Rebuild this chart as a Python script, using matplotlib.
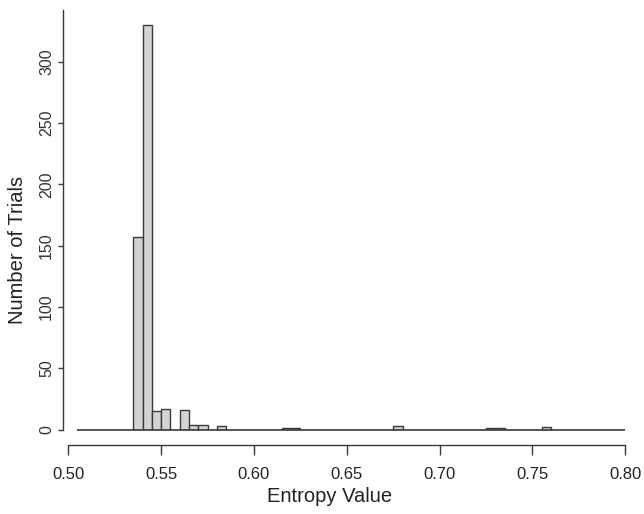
import matplotlib
matplotlib.use('Agg')
import matplotlib.pyplot as plt

# Histogram data (bin left edges, width 0.005)
bin_left = [0.535, 0.540, 0.545, 0.550, 0.560, 0.565, 0.570, 0.580,
            0.615, 0.620, 0.675, 0.725, 0.730, 0.755]
counts = [157, 330, 15, 17, 16, 4, 4, 3, 1, 1, 3, 1, 1, 2]
bin_width = 0.005

x_ticks = [0.50, 0.55, 0.60, 0.65, 0.70, 0.75, 0.80]
x_tick_labels = ['0.50', '0.55', '0.60', '0.65', '0.70', '0.75', '0.80']
y_ticks = [0, 50, 100, 150, 200, 250, 300]

plt.rcParams['font.family'] = ['Liberation Sans', 'DejaVu Sans']

W, H = 644, 514
fig = plt.figure(figsize=(W / 100, H / 100), dpi=100)
left, right = 68.3, 625.3
top, bottom = 10, 429.5
ax = fig.add_axes([left / W, 1 - bottom / H, (right - left) / W, (bottom - top) / H])

ax.bar(bin_left, counts, width=bin_width, align='edge',
       color='#d3d3d3', edgecolor='#3a3a3a', linewidth=1.0, zorder=2)
# zero line under the bars
ax.hlines(0, 0.5045, 0.80, color='#3a3a3a', linewidth=1.2, clip_on=False, zorder=3)

ax.set_xlim(0.50, 0.80)
ax.set_ylim(0, 342.4)

for s in ['top', 'right']:
    ax.spines[s].set_visible(False)
ax.spines['bottom'].set_position(('outward', 15.5 * 0.72))
ax.spines['left'].set_position(('outward', 5 * 0.72))
ax.spines['bottom'].set_bounds(0.50, 0.80)
ax.spines['left'].set_bounds(0, 342.4)
for s in ['bottom', 'left']:
    ax.spines[s].set_color('#3a3a3a')
    ax.spines[s].set_linewidth(1.0)

ax.set_xticks(x_ticks)
ax.set_xticklabels(x_tick_labels)
ax.set_yticks(y_ticks)
ax.tick_params(axis='x', length=7, width=1.0, color='#3a3a3a', pad=9,
               labelsize=12, labelcolor='#222222')
ax.tick_params(axis='y', length=3.6, width=1.0, color='#3a3a3a', pad=3,
               labelsize=11.5, labelcolor='#333333', labelrotation=90)
for lab in ax.get_yticklabels():
    lab.set_va('center')

ax.set_xlabel('Entropy Value', fontsize=14.5, color='#222222')
ax.set_ylabel('Number of Trials', fontsize=14.5, color='#222222')
ax.xaxis.set_label_coords((330 - left) / (right - left), (bottom - 497) / (bottom - top))
ax.xaxis.label.set_va('center')
ax.yaxis.set_label_coords((18 - left) / (right - left), (bottom - 250) / (bottom - top))
ax.yaxis.label.set_va('center')

fig.savefig('out.png', dpi=100)
